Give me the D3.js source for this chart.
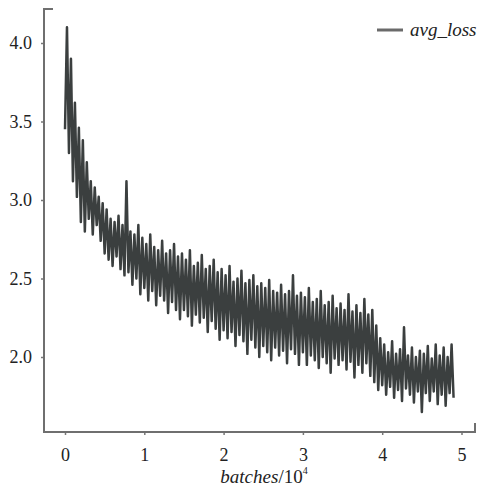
<!DOCTYPE html>
<html>
<head>
<meta charset="utf-8">
<script src="https://cdn.jsdelivr.net/npm/d3@7"></script>
<style>
  body { margin: 0; background: #fff; }
  svg { display: block; }
  .tick text { font-family: "Liberation Serif", "Times New Roman", Times, "DejaVu Serif", serif; font-size: 18px; fill: #222; }
</style>
</head>
<body>
<svg width="481" height="487"></svg>
<script>
const step = 0.025;
const avgLoss = [
  3.45, 4.10, 3.30, 3.90, 3.12, 3.62, 3.02, 3.46, 2.86, 3.38,
  2.80, 3.24, 2.88, 3.12, 2.78, 3.08, 2.84, 3.02, 2.74, 2.98,
  2.66, 2.94, 2.62, 2.88, 2.58, 2.86, 2.64, 2.90, 2.56, 2.84,
  2.52, 3.12, 2.54, 2.80, 2.46, 2.78, 2.50, 2.84, 2.40, 2.76,
  2.44, 2.72, 2.36, 2.78, 2.42, 2.70, 2.33, 2.68, 2.39, 2.74,
  2.36, 2.66, 2.28, 2.68, 2.35, 2.72, 2.30, 2.64, 2.24, 2.66,
  2.30, 2.62, 2.26, 2.68, 2.20, 2.58, 2.27, 2.60, 2.22, 2.65,
  2.25, 2.56, 2.16, 2.58, 2.23, 2.62, 2.18, 2.54, 2.11, 2.56,
  2.17, 2.52, 2.12, 2.58, 2.16, 2.48, 2.07, 2.50, 2.14, 2.55,
  2.10, 2.47, 2.02, 2.49, 2.11, 2.52, 2.06, 2.45, 2.00, 2.47,
  2.07, 2.44, 2.03, 2.49, 1.98, 2.42, 2.06, 2.41, 2.01, 2.46,
  2.04, 2.40, 1.96, 2.42, 2.05, 2.52, 2.02, 2.39, 1.95, 2.41,
  2.03, 2.38, 1.95, 2.44, 2.01, 2.35, 1.98, 2.37, 1.93, 2.42,
  2.00, 2.33, 1.96, 2.35, 1.90, 2.39, 1.99, 2.31, 1.95, 2.34,
  1.98, 2.30, 1.92, 2.40, 1.97, 2.29, 1.87, 2.33, 1.95, 2.28,
  1.90, 2.37, 1.96, 2.27, 1.88, 2.30, 1.84, 2.20, 1.79, 2.12,
  1.82, 2.08, 1.76, 2.03, 1.81, 2.10, 1.74, 2.02, 1.79, 2.05,
  1.72, 2.19, 1.80, 2.01, 1.76, 2.06, 1.71, 2.00, 1.78, 2.04,
  1.65, 2.02, 1.77, 2.07, 1.72, 1.99, 1.78, 2.08, 1.70, 2.01,
  1.76, 2.06, 1.69, 2.00, 1.77, 2.08, 1.74
];
const xTicks = [0, 1, 2, 3, 4, 5];
const yTicks = [2.0, 2.5, 3.0, 3.5, 4.0];

const svg = d3.select('svg');
const font = '"Liberation Serif", "Times New Roman", Times, "DejaVu Serif", serif';

const x = d3.scaleLinear().domain([0, 5]).range([65, 461.5]);
const y = d3.scaleLinear().domain([2, 4]).range([357, 43]);
const plotLeft = 44, plotRight = 475, plotTop = 9, plotBottom = 432;

// loss curve
const line = d3.line()
  .x((d, i) => x(i * step))
  .y((d) => y(d));

svg.append('path')
  .datum(avgLoss)
  .attr('d', line)
  .attr('fill', 'none')
  .attr('stroke', '#3b3f3f')
  .attr('stroke-width', 2.5)
  .attr('stroke-linejoin', 'round');

// axes
const yAxis = svg.append('g')
  .attr('transform', `translate(${plotLeft},0)`)
  .call(d3.axisLeft(y).tickValues(yTicks).tickFormat(d3.format('.1f')).tickSize(3).tickPadding(9));
const xAxis = svg.append('g')
  .attr('transform', `translate(0,${plotBottom})`)
  .call(d3.axisBottom(x).tickValues(xTicks).tickFormat(d3.format('d')).tickSize(3).tickPadding(13));
[yAxis, xAxis].forEach((g) => {
  g.attr('font-family', font);
  g.select('.domain').remove();
  g.selectAll('.tick line').attr('stroke', '#777').attr('stroke-width', 1.5);
});

// axis lines with small end caps
svg.append('path')
  .attr('d', `M${plotLeft + 9},${plotTop}H${plotLeft}V${plotBottom}H${plotRight}V${plotBottom - 9}`)
  .attr('fill', 'none')
  .attr('stroke', '#6f6f6f')
  .attr('stroke-width', 2);

// x axis title
const title = svg.append('text')
  .attr('x', 264)
  .attr('y', 483)
  .attr('text-anchor', 'middle')
  .attr('font-family', font)
  .attr('font-size', 19)
  .attr('fill', '#222');
title.append('tspan').attr('font-style', 'italic').text('batches');
title.append('tspan').text('/10');
title.append('tspan').attr('font-size', 10).attr('dy', -9).text('4');

// legend
svg.append('line')
  .attr('x1', 377).attr('x2', 403)
  .attr('y1', 30).attr('y2', 30)
  .attr('stroke', '#6a6a6a')
  .attr('stroke-width', 3);
svg.append('text')
  .attr('x', 410)
  .attr('y', 36)
  .attr('font-family', font)
  .attr('font-style', 'italic')
  .attr('font-size', 19)
  .attr('fill', '#222')
  .text('avg_loss');
</script>
</body>
</html>
